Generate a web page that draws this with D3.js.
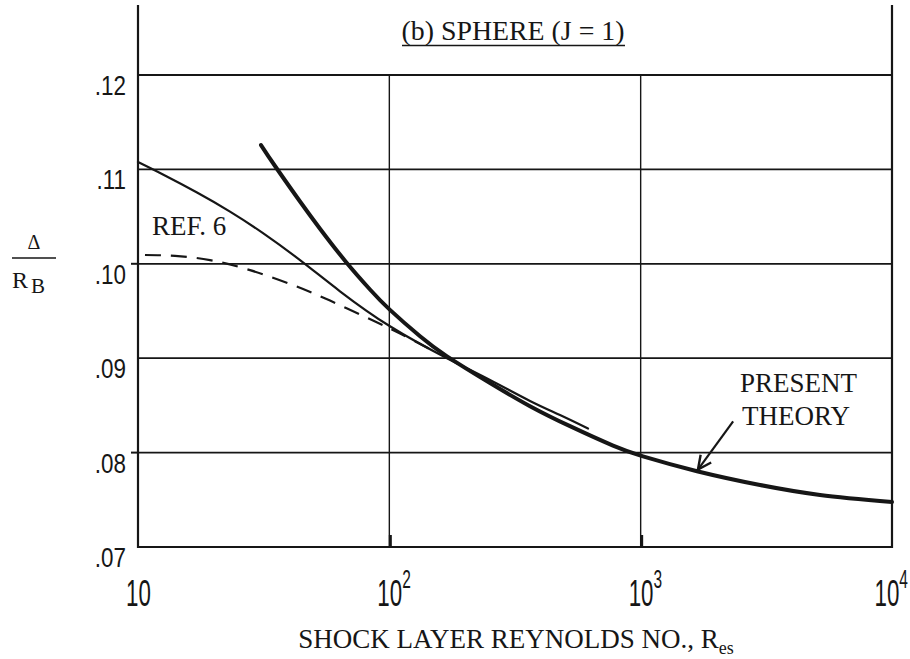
<!DOCTYPE html>
<html>
<head>
<meta charset="utf-8">
<script src="https://cdn.jsdelivr.net/npm/d3@7"></script>
<style>
  html, body { margin: 0; padding: 0; background: #fff; }
  svg { display: block; }
</style>
</head>
<body>
<svg id="chart" width="910" height="659"></svg>
<script>
// Shock standoff distance for a sphere vs. shock layer Reynolds number
const xTicks = [10, 100, 1000, 10000];
const xTickBase = ["10", "10", "10", "10"];
const xTickExp = ["", "2", "3", "4"];
const yTicks = [0.07, 0.08, 0.09, 0.10, 0.11, 0.12];
const yTickLabels = [".07", ".08", ".09", ".10", ".11", ".12"];

// Present theory (heavy line)
const presentRe  = [30.86, 35.09, 44.12, 52.98, 66.61, 83.76, 100.6, 132.5, 169.6, 251.5,
                    362.8, 523.4, 776.3, 1021.6, 1675.7, 2984, 5171, 10000];
const presentVal = [0.11258, 0.11036, 0.10660, 0.10372, 0.10033, 0.09728, 0.09512, 0.09232, 0.09020, 0.08737,
                    0.08492, 0.08280, 0.08074, 0.07960, 0.07803, 0.07657, 0.07552, 0.07476];

// Ref. 6, solid line
const ref6Re  = [10, 12.57, 17.17, 23.23, 31.43, 44.12, 63.63, 100.6, 169.6, 251.5, 362.8, 477.5, 617.4];
const ref6Val = [0.11078, 0.10946, 0.10755, 0.10553, 0.10325, 0.10039, 0.09709, 0.09338, 0.09000, 0.08769, 0.08547, 0.08398, 0.08255];

// Ref. 6, dashed line
const dashRe  = [10.66, 14.04, 19.34, 27.91, 41.38, 58.07, 86.1, 110.3, 145.2];
const dashVal = [0.10093, 0.10084, 0.10039, 0.09933, 0.09774, 0.09610, 0.09400, 0.09261, 0.09095];

// Pointer from the "PRESENT THEORY" note to its curve: [tail, tip]
const arrowRe  = [2333, 1690];
const arrowVal = [0.0833, 0.0782];

const ink = "#161616";
const svg = d3.select("#chart");

const x = d3.scaleLog().domain([10, 10000]).range([138, 892]);
const y = d3.scaleLinear().domain([0.07, 0.12]).range([547, 75]);

const g = svg.append("g");

// horizontal grid lines (including top and bottom frame)
g.selectAll("line.hgrid").data(yTicks).join("line")
  .attr("class", "hgrid")
  .attr("x1", x(10)).attr("x2", x(10000))
  .attr("y1", d => y(d)).attr("y2", d => y(d))
  .attr("stroke", ink).attr("stroke-width", d => (d === 0.07 ? 2.2 : 1.8));

// vertical grid lines at the decades
g.selectAll("line.vgrid").data(xTicks.slice(1, -1)).join("line")
  .attr("class", "vgrid")
  .attr("x1", d => x(d)).attr("x2", d => x(d))
  .attr("y1", y(0.12)).attr("y2", y(0.07))
  .attr("stroke", ink).attr("stroke-width", 1.4);

// small heavier tick marks at the foot of the decade lines
g.selectAll("line.foot").data(xTicks.slice(1, -1)).join("line")
  .attr("x1", d => x(d) + 1).attr("x2", d => x(d) + 1)
  .attr("y1", y(0.07) - 12).attr("y2", y(0.07))
  .attr("stroke", ink).attr("stroke-width", 3);

// side frame lines running up past the plot
[10, 10000].forEach(v => {
  g.append("line")
    .attr("x1", x(v)).attr("x2", x(v))
    .attr("y1", 5).attr("y2", y(0.07) + 1)
    .attr("stroke", ink).attr("stroke-width", 2.2);
});

// short outside ticks on the left edge
g.selectAll("line.ltick").data([0.10, 0.08]).join("line")
  .attr("x1", x(10) - 7).attr("x2", x(10))
  .attr("y1", d => y(d)).attr("y2", d => y(d))
  .attr("stroke", ink).attr("stroke-width", 2);

// y tick labels (hand lettered look: condensed)
yTicks.forEach((v, i) => {
  g.append("text")
    .attr("transform", `translate(126,${y(v) + 20}) scale(0.8,1)`)
    .attr("text-anchor", "end")
    .attr("font-family", "Liberation Sans, Arial, sans-serif")
    .attr("font-size", 28)
    .attr("fill", ink)
    .text(yTickLabels[i]);
});

// x tick labels: 10, 10^2, 10^3, 10^4
const sx = 0.62;
xTicks.forEach((v, i) => {
  const t = g.append("text")
    .attr("text-anchor", "start")
    .attr("font-family", "Liberation Sans, Arial, sans-serif")
    .attr("font-size", 36)
    .attr("fill", ink);
  t.append("tspan").text(xTickBase[i]);
  if (xTickExp[i]) {
    t.append("tspan").attr("dy", -18).attr("font-size", 25).text(xTickExp[i]);
  }
  const w = t.node().getComputedTextLength() * sx;
  const left = Math.min(x(v) - 12, 908 - w);
  t.attr("transform", `translate(${left},606) scale(${sx},1)`);
});

// curves (smooth cubic splines through the read-off points)
const line = d3.line()
  .x(d => x(d[0])).y(d => y(d[1]))
  .curve(d3.curveNatural);

g.append("path")
  .attr("d", line(d3.zip(dashRe, dashVal)))
  .attr("fill", "none").attr("stroke", ink)
  .attr("stroke-width", 2.2).attr("stroke-dasharray", "16,10");

g.append("path")
  .attr("d", line(d3.zip(ref6Re, ref6Val)))
  .attr("fill", "none").attr("stroke", ink)
  .attr("stroke-width", 2.2).attr("stroke-linecap", "round");

g.append("path")
  .attr("d", line(d3.zip(presentRe, presentVal)))
  .attr("fill", "none").attr("stroke", ink)
  .attr("stroke-width", 4).attr("stroke-linecap", "round");

// arrow to the present theory curve
const ax0 = x(arrowRe[0]), ay0 = y(arrowVal[0]);
const ax1 = x(arrowRe[1]), ay1 = y(arrowVal[1]);
g.append("line")
  .attr("x1", ax0).attr("y1", ay0).attr("x2", ax1).attr("y2", ay1)
  .attr("stroke", ink).attr("stroke-width", 2.2);
{
  const ang = Math.atan2(ay1 - ay0, ax1 - ax0);
  const len = 15, spread = 0.45;
  const p = a => [ax1 - len * Math.cos(ang + a), ay1 - len * Math.sin(ang + a)];
  const l = p(spread), r = p(-spread);
  g.append("path")
    .attr("d", `M${l[0]},${l[1]}L${ax1},${ay1}L${r[0]},${r[1]}`)
    .attr("fill", "none").attr("stroke", ink).attr("stroke-width", 2.4)
    .attr("stroke-linejoin", "miter");
}

const serif = "Liberation Serif, Times New Roman, serif";

// title
g.append("text")
  .attr("x", 513).attr("y", 40)
  .attr("text-anchor", "middle")
  .attr("font-family", serif).attr("font-size", 27)
  .attr("textLength", 223).attr("lengthAdjust", "spacingAndGlyphs")
  .attr("fill", ink)
  .text("(b) SPHERE (J = 1)");
g.append("line")
  .attr("x1", 402).attr("x2", 625).attr("y1", 45.5).attr("y2", 45.5)
  .attr("stroke", ink).attr("stroke-width", 1.5);

// curve labels
g.append("text")
  .attr("x", 152).attr("y", 235)
  .attr("font-family", serif).attr("font-size", 27).attr("fill", ink)
  .text("REF. 6");
g.append("text")
  .attr("x", 740).attr("y", 392)
  .attr("font-family", serif).attr("font-size", 27).attr("fill", ink)
  .text("PRESENT");
g.append("text")
  .attr("x", 742).attr("y", 425)
  .attr("font-family", serif).attr("font-size", 27).attr("fill", ink)
  .text("THEORY");

// x axis title
const xt = g.append("text")
  .attr("x", 516).attr("y", 648)
  .attr("text-anchor", "middle")
  .attr("font-family", serif).attr("font-size", 27).attr("fill", ink);
xt.append("tspan").text("SHOCK LAYER REYNOLDS NO., R");
xt.append("tspan").attr("dy", 6).attr("font-size", 18).text("es");

// y axis title: Δ over R_B
g.append("text")
  .attr("x", 34).attr("y", 249)
  .attr("text-anchor", "middle")
  .attr("font-family", serif).attr("font-size", 20).attr("fill", ink)
  .text("Δ");
g.append("line")
  .attr("x1", 12).attr("x2", 56).attr("y1", 258).attr("y2", 258)
  .attr("stroke", ink).attr("stroke-width", 1.5);
const rb = g.append("text")
  .attr("x", 12).attr("y", 288)
  .attr("font-family", serif).attr("font-size", 24).attr("fill", ink);
rb.append("tspan").text("R");
rb.append("tspan").attr("dx", 3).attr("dy", 5).attr("font-size", 21).text("B");
</script>
</body>
</html>
